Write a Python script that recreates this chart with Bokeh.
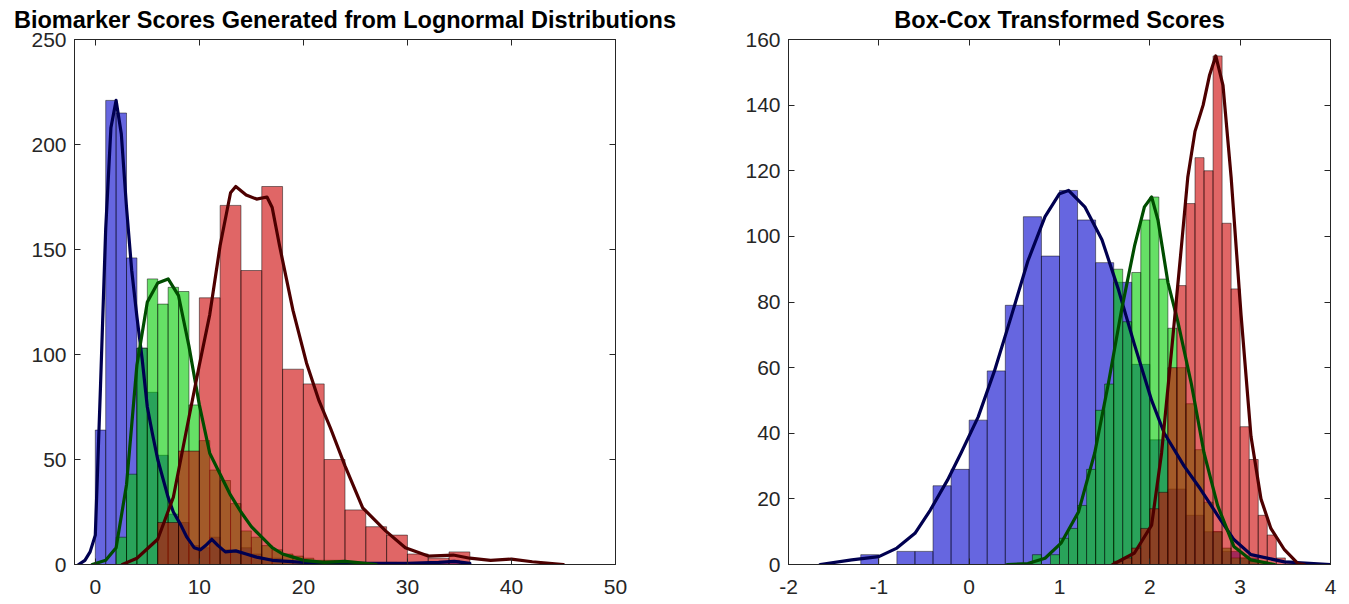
from bokeh.plotting import figure
from bokeh.layouts import row
from bokeh.models import Range1d, LinearAxis, FixedTicker, CustomJSTickFormatter
from bokeh.embed import file_html
from bokeh.resources import INLINE

# ---------------- data: left panel (raw scores) ----------------
L_blue_start, L_blue_width = 0.0, 1.0
L_blue_counts = [64, 221, 215, 146, 103, 82, 52, 24, 20, 9, 8, 13, 7, 6, 8, 5, 3, 3, 2, 1,
                 1, 1, 0, 1, 0, 1, 0, 0, 1, 0, 0, 1, 0, 1, 2, 1]
L_green_start, L_green_width = 2.0, 1.0
L_green_counts = [13, 43, 103, 136, 124, 132, 130, 76, 59, 45, 40, 29, 16, 13, 9, 7, 5, 4,
                  3, 2, 2, 2, 1, 1]
L_red_start, L_red_width = 6.0, 2.0
L_red_counts = [20, 54, 127, 171, 140, 180, 93, 86, 50, 26, 18, 14, 5, 3, 6]

L_blue_kde_x = [-1.6, -1.0, -0.5, 0.0, 0.5, 1.0, 1.5, 2.0, 2.5, 3.0, 3.5, 4.0, 4.5, 5.0, 5.5,
                6.0, 7.0, 7.5, 8.2, 8.8, 9.5, 10.1, 10.6, 11.2, 11.8, 12.5, 13.5, 14.5, 15.5,
                17.0, 20.0, 25.0, 30.0, 33.0, 34.5, 36.0]
L_blue_kde_y = [0, 2, 6, 14, 85, 160, 208, 221, 205, 170, 140, 118, 98, 75, 62,
                50, 32, 25, 19, 13, 8, 7, 9, 12, 9, 6, 6.5, 5, 3.5,
                2, 1, 0.5, 0.5, 1, 1.5, 0.5]
L_green_kde_x = [-0.3, 1.0, 2.0, 3.0, 4.0, 5.0, 6.0, 7.0, 8.0, 9.0, 10.0, 11.0, 12.0, 13.0,
                 14.0, 15.0, 16.0, 17.0, 18.0, 19.0, 20.0, 22.0, 24.0, 25.0, 27.0]
L_green_kde_y = [0, 2, 8, 38, 95, 125, 134, 136, 128, 104, 76, 53, 43, 33,
                 25, 18, 13, 8, 5, 3.5, 2, 1, 1.5, 1, 0]
L_red_kde_x = [2.6, 4.0, 6.0, 7.5, 9.0, 10.0, 11.0, 12.0, 13.0, 13.5, 14.5, 15.5, 16.5, 17.0,
               17.7, 19.0, 20.3, 21.5, 22.6, 24.0, 25.7, 27.9, 29.8, 32.0, 34.4, 36.0, 38.0,
               40.0, 42.0, 45.0]
L_red_kde_y = [0, 3, 12, 32, 70, 95, 119, 152, 177, 180, 176, 174, 175, 170,
               152, 121, 96, 78, 65, 47, 27, 16, 8, 4, 4.5, 3, 2,
               2.6, 1.3, 0]

# ---------------- data: right panel (Box-Cox) ----------------
R_blue_start, R_blue_width = -1.2, 0.2
R_blue_counts = [3, 0, 4, 4, 24, 29, 44, 59, 79, 106, 94, 114, 105, 92, 86, 61, 38, 23, 15,
                 10, 4, 2]
R_green_start, R_green_width = 0.7, 0.1
R_green_counts = [3, 0, 3, 8, 11, 18, 29, 47, 55, 90, 74, 89, 105, 112, 87, 72, 60, 49, 35,
                  19, 10, 5, 2, 2, 1, 1]
R_red_start, R_red_width = 1.6, 0.1
R_red_counts = [1, 2, 5, 11, 17, 22, 60, 85, 110, 124, 120, 155, 104, 84, 42, 32, 15, 9, 2, 1]

R_blue_kde_x = [-1.65, -1.3, -1.0, -0.8, -0.6, -0.43, -0.24, -0.09, 0.1, 0.28, 0.47, 0.65,
                0.84, 1.0, 1.1, 1.28, 1.47, 1.65, 1.83, 2.02, 2.16, 2.38, 2.56, 2.75, 2.93,
                3.12, 3.49, 4.0]
R_blue_kde_y = [0, 1.4, 2.4, 5, 9.5, 16.6, 25.7, 34, 45, 59, 76, 92.5,
                106, 113, 114, 109, 99, 84, 67, 50, 40, 30, 23, 15, 7.6,
                3, 0.8, 0]
R_green_kde_x = [0.42, 0.65, 0.84, 1.02, 1.21, 1.39, 1.54, 1.69, 1.83, 1.94, 2.02, 2.09, 2.2,
                 2.31, 2.46, 2.6, 2.75, 2.93, 3.12, 3.38]
R_green_kde_y = [0, 0.3, 1.9, 6.6, 16, 34, 55, 78, 97, 109, 112, 105, 86,
                 74, 55, 34, 18, 5.5, 1.4, 0]
R_red_kde_x = [1.59, 1.83, 2.02, 2.13, 2.24, 2.35, 2.42, 2.5, 2.59, 2.66, 2.73, 2.81, 2.9,
               3.01, 3.12, 3.23, 3.34, 3.49, 3.64, 3.71]
R_red_kde_y = [0, 3.5, 12, 34, 65, 97, 118, 132, 140, 149, 155, 146, 118,
               76, 39, 20, 11, 4.5, 0.3, 0]

titles = ["Biomarker Scores Generated from Lognormal Distributions", "Box-Cox Transformed Scores"]
L_xticks = [0, 10, 20, 30, 40, 50]
L_yticks = [0, 50, 100, 150, 200, 250]
R_xticks = [-2, -1, 0, 1, 2, 3, 4]
R_yticks = [0, 20, 40, 60, 80, 100, 120, 140, 160]
R_xlabels = {-2: "-2", -1: "-1"}

FILL = ["#0000cc", "#00cc00", "#cc0000"]
KDE = ["#000050", "#004d00", "#4d0000"]
AX = "#262626"
FONT = "Liberation Sans"


def edges(start, width, counts):
    left = [start + i * width for i in range(len(counts))]
    right = [start + (i + 1) * width for i in range(len(counts))]
    return left, right


def make_fig(title, w, h, xr, yr, xt, yt, bl, br, hists, kdes, xlab=None):
    p = figure(width=w, height=h, x_range=Range1d(*xr), y_range=Range1d(*yr),
               output_backend="svg", toolbar_location=None,
               min_border_left=bl, min_border_right=br, min_border_top=39, min_border_bottom=38,
               background_fill_color="white", border_fill_color="white")
    p.title.text = title
    p.title.align = "center"
    p.title.vertical_align = "top"
    p.title.text_font = FONT
    p.title.text_font_size = "23.5px"
    p.title.text_font_style = "bold"
    p.title.text_color = "black"
    p.title.standoff = 10
    p.grid.visible = False
    p.outline_line_color = AX
    p.outline_line_width = 1
    for ax, ticks in ((p.xaxis[0], xt), (p.yaxis[0], yt)):
        ax.ticker = FixedTicker(ticks=ticks)
        ax.major_tick_in = 6
        ax.major_tick_out = 0
        ax.minor_tick_line_color = None
        ax.axis_line_color = AX
        ax.major_tick_line_color = AX
        ax.major_label_text_color = AX
        ax.major_label_text_font = FONT
        ax.major_label_text_font_size = "21px"
    if xlab:
        p.xaxis[0].major_label_overrides = xlab
    p.xaxis[0].major_label_standoff = 15
    p.yaxis[0].major_label_standoff = 8
    # ticks on the top and right edges (no labels)
    for loc, ticks in (("above", xt), ("right", yt)):
        a = LinearAxis(ticker=FixedTicker(ticks=ticks),
                       formatter=CustomJSTickFormatter(code="return ''"))
        a.major_tick_in = 6
        a.major_tick_out = 0
        a.minor_tick_line_color = None
        a.axis_line_color = AX
        a.major_tick_line_color = AX
        a.major_label_text_font_size = "0px"
        a.major_label_standoff = 0
        p.add_layout(a, loc)
    for (start, width, counts), col in zip(hists, FILL):
        l, r = edges(start, width, counts)
        p.quad(left=l, right=r, top=counts, bottom=0, fill_color=col, fill_alpha=0.6,
               line_color="black", line_alpha=0.6, line_width=0.8)
    for (kx, ky), col in zip(kdes, KDE):
        p.line(kx, ky, line_color=col, line_width=3.2, line_join="round", line_cap="round")
    return p


p1 = make_fig(titles[0], 720, 602, (-2, 50), (0, 250), L_xticks, L_yticks, 74, 105,
              [(L_blue_start, L_blue_width, L_blue_counts),
               (L_green_start, L_green_width, L_green_counts),
               (L_red_start, L_red_width, L_red_counts)],
              [(L_blue_kde_x, L_blue_kde_y), (L_green_kde_x, L_green_kde_y),
               (L_red_kde_x, L_red_kde_y)])
p2 = make_fig(titles[1], 621, 602, (-2, 4), (0, 160), R_xticks, R_yticks, 68, 11,
              [(R_blue_start, R_blue_width, R_blue_counts),
               (R_green_start, R_green_width, R_green_counts),
               (R_red_start, R_red_width, R_red_counts)],
              [(R_blue_kde_x, R_blue_kde_y), (R_green_kde_x, R_green_kde_y),
               (R_red_kde_x, R_red_kde_y)], xlab=R_xlabels)

layout = row(p1, p2, spacing=0)
open("out.html", "w").write(file_html(layout, INLINE))
